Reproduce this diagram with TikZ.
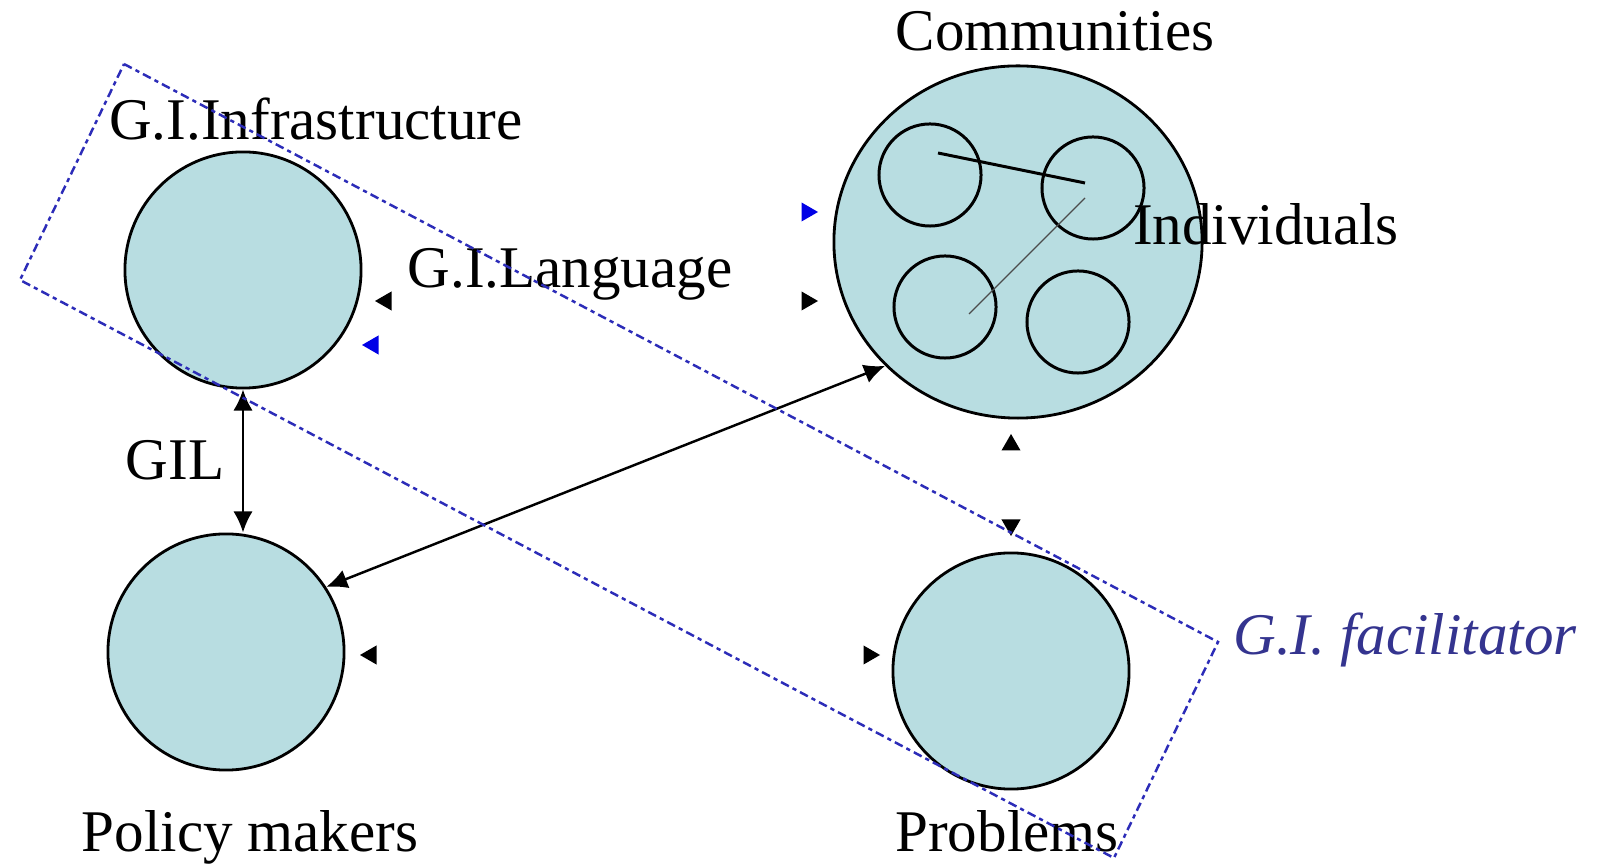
\documentclass[tikz,border=0pt]{standalone}
\usepackage{fontspec}
\setmainfont{Liberation Serif}
\usetikzlibrary{arrows.meta, shapes.geometric}
\definecolor{gicyan}{HTML}{B8DDE1}
\definecolor{giblue}{HTML}{2C2CB8}
\definecolor{ginavy}{HTML}{34348F}
\definecolor{tipblue}{HTML}{0000E6}

\begin{document}
\begin{tikzpicture}[
    x=0.01cm, y=-0.01cm,
    every node/.style={font=\fontsize{16.8}{20}\selectfont},
    bigdisc/.style={circle, draw, line width=0.8pt, fill=gicyan,
                    minimum size=2.36cm, inner sep=0pt},
    smalldisc/.style={circle, draw, line width=0.85pt,
                      minimum size=1.02cm, inner sep=0pt},
    lbl/.style={anchor=base},
    dblarr/.style={{Latex[length=6pt,width=5.5pt]}-{Latex[length=6pt,width=5.5pt]},
                   line width=0.7pt},
    tipmark/.style={regular polygon, regular polygon sides=3, fill,
                    inner sep=0pt, minimum size=0.22cm},
    facil/.style={draw=giblue, line width=0.7pt,
                  dash pattern=on 2.5pt off 1.2pt on 1.2pt off 1.2pt},
  ]
  \useasboundingbox (0,0) rectangle (1598,868);

  % Discs
  \node[bigdisc] (infra)  at (243,270) {};
  \node[bigdisc] (policy) at (226,652) {};
  \node[bigdisc] (prob)   at (1011,671) {};
  \node[ellipse, draw, line width=0.8pt, fill=gicyan, inner sep=0pt,
        minimum width=3.68cm, minimum height=3.52cm] (comm) at (1018,242) {};

  % Individuals inside the community
  \node[smalldisc] (ind1) at (930,175) {};
  \node[smalldisc] (ind2) at (1093,188) {};
  \node[smalldisc] (ind3) at (945,307) {};
  \node[smalldisc] (ind4) at (1078,322) {};
  \coordinate (linka) at (938,153);
  \coordinate (linkb) at (1085,183);
  \coordinate (linkc) at (1085,198);
  \coordinate (linkd) at (969,314);
  \draw[line width=0.85pt] (linka) -- (linkb);
  \draw[line width=0.35pt, black!70] (linkc) -- (linkd);

  % Links
  \draw[dblarr] (infra.south) -- (infra.south |- policy.north);
  \draw[dblarr] (policy.33) -- (comm.223);

  % Loose arrow tips
  \node[tipmark, rotate=90]            (tipa) at (386,301) {};
  \node[tipmark, rotate=90, tipblue]   (tipb) at (373,345) {};
  \node[tipmark, rotate=-90, tipblue]  (tipc) at (807,212) {};
  \node[tipmark, rotate=-90]           (tipd) at (807,301) {};
  \node[tipmark]                       (tipe) at (1011,445) {};
  \node[tipmark, rotate=180]           (tipf) at (1011,525) {};
  \node[tipmark, rotate=90]            (tipg) at (371,655) {};
  \node[tipmark, rotate=-90]           (tiph) at (869,655) {};

  % Labels
  \node[lbl] (lcomm)   at (1055,51)  {Communities};
  \node[lbl] (linfra)  at (316,140)  {G.I.Infrastructure};
  \node[lbl] (llang)   at (570,288)  {G.I.Language};
  \node[lbl] (lind)    at (1266,245) {Individuals};
  \node[lbl] (lgil)    at (175,480)  {GIL};
  \node[lbl] (lpolicy) at (250,851)  {Policy makers};
  \node[lbl] (lprob)   at (1007,851) {Problems};
  \node[lbl, text=ginavy, font=\fontsize{16.8}{20}\selectfont\itshape]
    (lfacil) at (1405,655) {G.I. facilitator};

  % Facilitator frame
  \coordinate (ftop)   at (124,64);
  \coordinate (fright) at (1218,642);
  \coordinate (fbot)   at (1114,858);
  \coordinate (fleft)  at (20,280);
  \draw[facil] (ftop) -- (fright) -- (fbot) -- (fleft) -- cycle;
\end{tikzpicture}
\end{document}
